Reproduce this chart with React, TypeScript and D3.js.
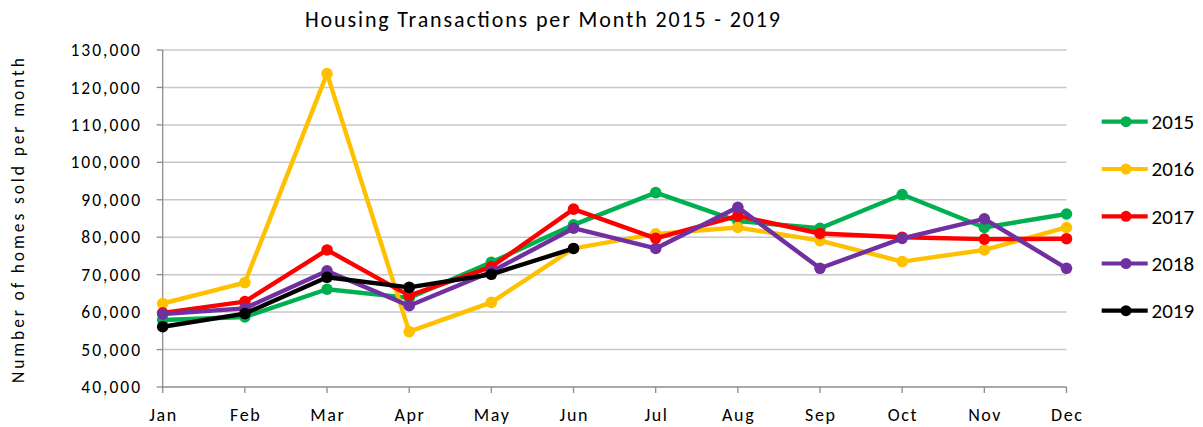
import React from "react";
import * as d3 from "d3";

const months = ["Jan","Feb","Mar","Apr","May","Jun","Jul","Aug","Sep","Oct","Nov","Dec"];
const yTicks = [40000,50000,60000,70000,80000,90000,100000,110000,120000,130000];

const s2015 = [57900, 58700, 66100, 63800, 73300, 83300, 91900, 84300, 82400, 91400, 82600, 86200];
const s2016 = [62300, 67900, 123700, 54800, 62600, 77000, 80900, 82600, 79100, 73500, 76600, 82600];
const s2017 = [59800, 62800, 76600, 64400, 72100, 87500, 79700, 85700, 81000, 80000, 79500, 79600];
const s2018 = [59500, 61000, 71000, 61700, 70800, 82400, 77000, 88000, 71700, 79700, 84900, 71700];
const s2019 = [56100, 59600, 69300, 66600, 70100, 77000];

const seriesNames = ["2015","2016","2017","2018","2019"];
const seriesColors = ["#00B050","#FFC000","#FF0000","#7030A0","#000000"];
const seriesData = [s2015, s2016, s2017, s2018, s2019];

const FONT = "Carlito, Calibri, 'Liberation Sans', Arial, sans-serif";

export default function App() {
  const W = 1203, H = 427;
  const x = d3.scalePoint<string>().domain(months).range([162.7, 1066.5]);
  const y = d3.scaleLinear().domain([40000, 130000]).range([387, 50]);
  const fmt = d3.format(",");
  const line = d3.line<number>().x((_, i) => x(months[i])!).y(d => y(d));
  const x0 = 162.7, x1 = 1066.5;
  const legendY = [121.7, 169, 216.3, 263.5, 310.7];

  return (
    <svg width={W} height={H} style={{ position: "absolute", left: 0, top: 0 }} fontFamily={FONT}>
      <rect width={W} height={H} fill="#fff" />
      <text x={305} y={27} fontSize={22} fill="#000" textLength={475} lengthAdjust="spacing">Housing Transactions per Month  2015 - 2019</text>
      {yTicks.map(t => (
        <g key={t}>
          {t !== 40000 && <line x1={x0} x2={x1} y1={y(t)} y2={y(t)} stroke="#C8C8C8" strokeWidth={1.5} />}
          <line x1={x0 - 6} x2={x0} y1={y(t)} y2={y(t)} stroke="#8C8C8C" strokeWidth={1.3} />
          <text x={142} y={y(t)} dy="0.35em" textAnchor="end" fontSize={17.5} letterSpacing={2} fill="#000">{fmt(t)}</text>
        </g>
      ))}
      <line x1={x0} x2={x0} y1={y(130000)} y2={y(40000)} stroke="#8C8C8C" strokeWidth={1.3} />
      <line x1={x0} x2={x1} y1={y(40000)} y2={y(40000)} stroke="#8C8C8C" strokeWidth={1.3} />
      {months.map(m => (
        <g key={m}>
          <line x1={x(m)!} x2={x(m)!} y1={y(40000)} y2={y(40000) + 6} stroke="#8C8C8C" strokeWidth={1.3} />
          <text x={x(m)! + 0.8} y={420.5} textAnchor="middle" fontSize={18} letterSpacing={1.6} fill="#000">{m}</text>
        </g>
      ))}
      <text transform={`translate(24,383) rotate(-90)`} fontSize={17.5} fill="#000" textLength={325} lengthAdjust="spacing">Number  of homes sold per month</text>
      {seriesData.map((d, si) => (
        <g key={si}>
          <path d={line(d)!} fill="none" stroke={seriesColors[si]} strokeWidth={4.4} strokeLinejoin="round" />
          {d.map((v, i) => (
            <circle key={i} cx={x(months[i])!} cy={y(v)} r={5.8} fill={seriesColors[si]} />
          ))}
        </g>
      ))}
      {seriesNames.map((n, i) => (
        <g key={n}>
          <line x1={1101.7} x2={1147.7} y1={legendY[i]} y2={legendY[i]} stroke={seriesColors[i]} strokeWidth={4.2} />
          <circle cx={1126} cy={legendY[i]} r={5.5} fill={seriesColors[i]} />
          <text x={1151.5} y={legendY[i]} dy="0.35em" fontSize={21} fill="#000">{n}</text>
        </g>
      ))}
    </svg>
  );
}
